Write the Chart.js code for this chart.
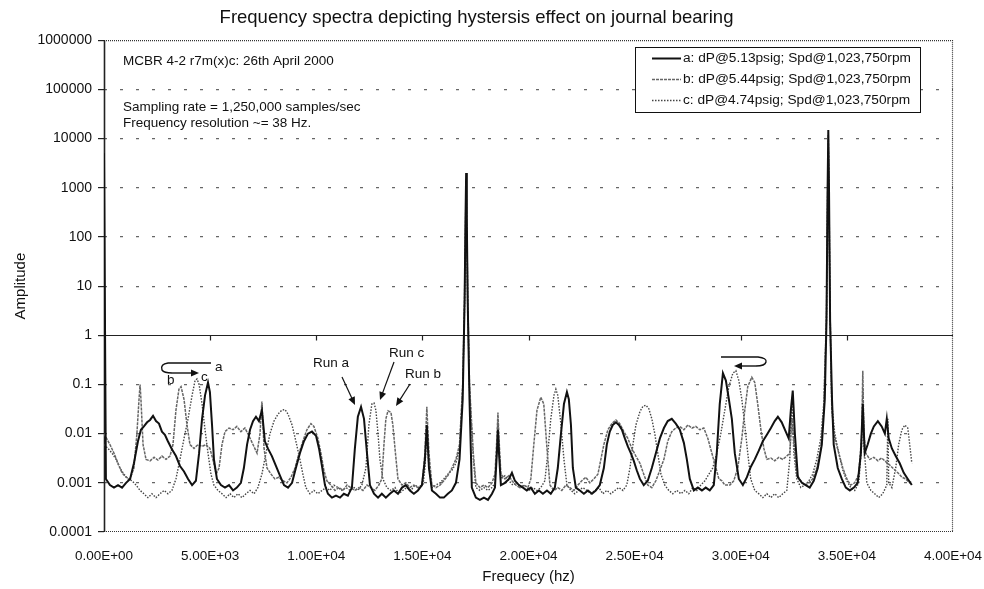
<!DOCTYPE html>
<html>
<head>
<meta charset="utf-8">
<title>Frequency spectra - journal bearing</title>
<script src="https://cdn.jsdelivr.net/npm/chart.js@4.4.1/dist/chart.umd.min.js"></script>
<style>
  html, body { margin: 0; padding: 0; background: #fff; }
  canvas { display: block; }
</style>
</head>
<body>
<canvas id="spectra" width="984" height="589"></canvas>
<script>
// Spectra for the three runs, [frequency Hz, amplitude]
const runA = [
  [0,5000],[90,0.0012],[280,0.0009],[470,0.0008],[660,0.0009],[850,0.0008],[1040,0.001],[1230,0.0012],
  [1410,0.0025],[1600,0.007],[1740,0.012],[1880,0.014],[2030,0.017],[2170,0.019],[2310,0.023],[2450,0.018],
  [2590,0.016],[2730,0.011],[2870,0.0095],[3010,0.007],[3200,0.0048],[3390,0.0035],[3580,0.0022],[3770,0.0017],
  [3960,0.0012],[4150,0.0009],[4330,0.0011],[4480,0.004],[4620,0.02],[4760,0.06],[4900,0.11],[4990,0.07],
  [5090,0.015],[5180,0.003],[5320,0.0012],[5510,0.0009],[5700,0.0008],[5890,0.0009],[6080,0.0007],[6260,0.0008],
  [6450,0.001],[6590,0.002],[6740,0.006],[6880,0.012],[7020,0.018],[7160,0.022],[7300,0.018],[7440,0.03],
  [7580,0.007],[7720,0.005],[7910,0.0035],[8100,0.0022],[8290,0.0014],[8480,0.0009],[8670,0.0008],[8860,0.001],
  [9040,0.002],[9230,0.004],[9420,0.007],[9610,0.01],[9800,0.011],[9990,0.009],[10130,0.005],[10270,0.0022],
  [10410,0.0009],[10550,0.0006],[10740,0.0005],[10930,0.00055],[11120,0.0005],[11300,0.0006],[11490,0.00055],[11680,0.0008],
  [11820,0.005],[11960,0.022],[12110,0.035],[12250,0.02],[12390,0.004],[12530,0.0009],[12720,0.0006],[12910,0.0005],
  [13090,0.0006],[13280,0.0005],[13470,0.0006],[13660,0.0007],[13850,0.0006],[14040,0.0008],[14220,0.0009],[14410,0.0007],
  [14600,0.0006],[14790,0.0007],[14980,0.0009],[15120,0.003],[15210,0.015],[15310,0.002],[15450,0.0007],[15640,0.0006],
  [15830,0.0005],[16010,0.0005],[16200,0.0006],[16390,0.0007],[16580,0.001],[16750,0.003],[16900,0.05],[16990,5],
  [17030,200],[17062,2000],[17095,200],[17135,5],[17220,0.05],[17330,0.0008],[17520,0.0005],[17710,0.00045],
  [17900,0.0005],[18090,0.00045],[18280,0.0006],[18420,0.0008],[18510,0.004],[18560,0.012],[18610,0.004],[18700,0.0009],
  [18890,0.001],[19080,0.0012],[19220,0.0016],[19360,0.0011],[19550,0.0009],[19740,0.0008],[19920,0.0007],[20110,0.0008],
  [20300,0.0006],[20490,0.0007],[20680,0.0006],[20870,0.0007],[21050,0.0006],[21240,0.0008],[21380,0.002],[21530,0.01],
  [21670,0.04],[21810,0.07],[21900,0.05],[22000,0.015],[22090,0.002],[22230,0.0008],[22420,0.0007],[22610,0.0006],
  [22800,0.0007],[22990,0.0006],[23170,0.0007],[23360,0.0009],[23550,0.002],[23690,0.006],[23830,0.011],[23970,0.015],
  [24120,0.017],[24260,0.015],[24400,0.012],[24540,0.008],[24680,0.0055],[24820,0.004],[24960,0.0028],[25100,0.0018],
  [25250,0.0012],[25430,0.0009],[25620,0.0011],[25810,0.002],[26000,0.004],[26190,0.008],[26380,0.013],[26560,0.018],
  [26750,0.02],[26940,0.016],[27130,0.012],[27320,0.0065],[27460,0.003],[27600,0.0012],[27790,0.0007],[27980,0.0008],
  [28170,0.0007],[28350,0.0008],[28540,0.0007],[28730,0.0009],[28870,0.004],[29010,0.04],[29160,0.17],[29300,0.12],
  [29440,0.05],[29580,0.02],[29720,0.004],[29910,0.0012],[30100,0.0009],[30290,0.0013],[30470,0.0021],[30660,0.003],
  [30850,0.0045],[31040,0.007],[31230,0.0095],[31420,0.013],[31600,0.018],[31750,0.022],[31930,0.017],[32120,0.011],
  [32260,0.008],[32360,0.03],[32450,0.075],[32550,0.01],[32690,0.0013],[32880,0.001],[33060,0.0009],[33250,0.0008],
  [33440,0.0011],[33630,0.002],[33820,0.006],[33960,0.05],[34040,2],[34090,800],[34125,15000],[34160,800],
  [34210,2],[34300,0.05],[34380,0.006],[34570,0.002],[34760,0.0012],[34950,0.0008],[35140,0.0007],[35330,0.0008],
  [35510,0.001],[35660,0.004],[35750,0.04],[35840,0.004],[35980,0.006],[36130,0.01],[36270,0.014],[36460,0.018],
  [36640,0.014],[36790,0.01],[36880,0.02],[36970,0.008],[37120,0.005],[37300,0.0035],[37490,0.0025],[37680,0.0016],
  [37870,0.0012],[38060,0.0009]
];

const runB = [
  [0,0.01],[280,0.006],[470,0.004],[660,0.0025],[850,0.0016],[1040,0.0013],[1230,0.0012],[1410,0.002],
  [1550,0.01],[1650,0.05],[1700,0.1],[1740,0.05],[1840,0.006],[1980,0.003],[2170,0.0028],[2360,0.0033],
  [2540,0.0029],[2730,0.0035],[2920,0.003],[3110,0.0035],[3250,0.006],[3390,0.03],[3530,0.08],[3630,0.09],
  [3770,0.05],[3910,0.015],[4050,0.006],[4240,0.005],[4430,0.006],[4620,0.0055],[4800,0.006],[4990,0.005],
  [5130,0.003],[5280,0.0015],[5420,0.002],[5560,0.006],[5700,0.011],[5890,0.013],[6080,0.012],[6260,0.014],
  [6450,0.011],[6640,0.013],[6830,0.009],[7020,0.006],[7210,0.004],[7350,0.01],[7440,0.045],[7540,0.005],
  [7680,0.002],[7870,0.0015],[8050,0.0012],[8240,0.0013],[8430,0.0011],[8620,0.001],[8810,0.0013],[9000,0.002],
  [9190,0.004],[9370,0.007],[9560,0.012],[9750,0.016],[9890,0.014],[10080,0.008],[10220,0.004],[10360,0.0018],
  [10500,0.0011],[10690,0.0009],[10880,0.0007],[11070,0.0008],[11260,0.0007],[11450,0.0009],[11630,0.0008],[11820,0.0007],
  [12010,0.0008],[12200,0.0007],[12390,0.0009],[12580,0.0008],[12760,0.0007],[12950,0.0009],[13090,0.0012],[13190,0.006],
  [13280,0.02],[13380,0.029],[13520,0.027],[13610,0.015],[13710,0.005],[13850,0.0012],[14040,0.0009],[14220,0.001],
  [14410,0.0008],[14600,0.0009],[14790,0.0008],[14980,0.0009],[15120,0.004],[15210,0.035],[15310,0.004],[15450,0.0009],
  [15640,0.0008],[15830,0.0009],[16010,0.0011],[16200,0.0014],[16390,0.002],[16580,0.003],[16750,0.006],[16900,0.1],
  [16990,8],[17030,150],[17062,1500],[17095,150],[17135,8],[17220,0.1],[17400,0.004],[17520,0.001],
  [17710,0.0008],[17900,0.0009],[18090,0.0008],[18280,0.001],[18420,0.0015],[18510,0.008],[18560,0.027],[18610,0.008],
  [18700,0.0015],[18890,0.0012],[19080,0.0014],[19220,0.0011],[19410,0.0009],[19590,0.0008],[19780,0.0009],[19970,0.0008],
  [20110,0.0012],[20250,0.006],[20400,0.03],[20580,0.055],[20720,0.04],[20870,0.005],[21010,0.0009],[21200,0.0007],
  [21380,0.0008],[21570,0.0007],[21760,0.0009],[21950,0.0008],[22140,0.0007],[22330,0.0009],[22510,0.0011],[22700,0.0013],
  [22890,0.001],[23080,0.0012],[23270,0.0015],[23410,0.003],[23550,0.006],[23740,0.012],[23930,0.016],[24120,0.019],
  [24300,0.016],[24490,0.011],[24680,0.008],[24870,0.005],[25060,0.0035],[25250,0.0025],[25430,0.0015],[25620,0.0009],
  [25810,0.0008],[26000,0.0011],[26190,0.0018],[26380,0.003],[26560,0.007],[26750,0.011],[26940,0.013],[27130,0.014],
  [27320,0.012],[27510,0.015],[27700,0.013],[27880,0.014],[28070,0.012],[28260,0.013],[28450,0.008],[28640,0.004],
  [28830,0.002],[28970,0.0012],[29110,0.0011],[29250,0.0009],[29490,0.0009],[29670,0.0011],[29860,0.002],[30050,0.008],
  [30190,0.03],[30330,0.09],[30520,0.14],[30660,0.11],[30800,0.04],[30950,0.012],[31090,0.005],[31230,0.003],
  [31420,0.0032],[31600,0.0028],[31790,0.0033],[31980,0.003],[32170,0.0035],[32310,0.004],[32410,0.02],[32500,0.007],
  [32640,0.0015],[32830,0.0011],[33020,0.0009],[33210,0.001],[33390,0.0012],[33580,0.002],[33770,0.005],[33910,0.03],
  [34040,3],[34090,600],[34125,12000],[34160,600],[34210,3],[34290,0.03],[34430,0.008],[34620,0.004],
  [34810,0.002],[35000,0.0012],[35180,0.0009],[35370,0.001],[35560,0.0015],[35700,0.01],[35750,0.19],[35800,0.01],
  [35890,0.004],[36080,0.003],[36270,0.0033],[36460,0.0028],[36640,0.0032],[36830,0.0027],[37020,0.0023],[37210,0.0019],
  [37400,0.0016],[37590,0.0013],[37770,0.0012],[37960,0.001],[38060,0.0011]
];

const runC = [
  [0,0.006],[190,0.005],[380,0.004],[570,0.003],[750,0.002],[940,0.0015],[1130,0.0012],[1320,0.0011],
  [1510,0.0009],[1700,0.0007],[1880,0.0006],[2070,0.0005],[2260,0.0006],[2450,0.0005],[2640,0.0006],[2830,0.0007],
  [3010,0.0006],[3200,0.0007],[3390,0.0012],[3580,0.003],[3770,0.008],[3960,0.02],[4150,0.06],[4290,0.12],
  [4380,0.13],[4480,0.1],[4620,0.04],[4760,0.012],[4900,0.004],[5040,0.0015],[5180,0.0009],[5370,0.0007],
  [5560,0.0006],[5750,0.0005],[5940,0.0006],[6120,0.0005],[6310,0.0006],[6500,0.0005],[6690,0.0006],[6880,0.0007],
  [7070,0.0006],[7250,0.0008],[7440,0.0015],[7630,0.004],[7820,0.01],[8010,0.018],[8200,0.025],[8380,0.03],
  [8530,0.031],[8670,0.025],[8860,0.015],[9040,0.007],[9230,0.003],[9370,0.0015],[9510,0.0008],[9700,0.0006],
  [9890,0.0007],[10080,0.0006],[10270,0.0007],[10460,0.0008],[10650,0.0007],[10830,0.0009],[11020,0.0008],[11210,0.0007],
  [11400,0.0008],[11590,0.0007],[11780,0.0008],[11960,0.0007],[12150,0.0009],[12340,0.002],[12480,0.015],[12620,0.04],
  [12720,0.042],[12810,0.03],[12910,0.01],[13000,0.003],[13140,0.0012],[13330,0.0008],[13520,0.0007],[13710,0.0008],
  [13900,0.0006],[14080,0.0007],[14270,0.0008],[14460,0.0007],[14650,0.0009],[14840,0.0008],[15030,0.0009],[15120,0.002],
  [15210,0.01],[15310,0.002],[15450,0.0008],[15640,0.0009],[15830,0.001],[16010,0.0012],[16200,0.0015],[16390,0.0018],
  [16580,0.0025],[16750,0.005],[16900,0.08],[16990,4],[17030,100],[17062,1000],[17095,100],[17135,4],
  [17220,0.08],[17400,0.003],[17520,0.0008],[17710,0.0007],[17900,0.0008],[18090,0.0007],[18280,0.0008],[18420,0.001],
  [18510,0.005],[18560,0.02],[18610,0.005],[18700,0.0012],[18890,0.0014],[19080,0.0011],[19260,0.0009],[19450,0.001],
  [19640,0.0008],[19830,0.0009],[20020,0.0007],[20210,0.0008],[20400,0.0007],[20580,0.0008],[20770,0.0011],[20910,0.004],
  [21050,0.02],[21200,0.06],[21290,0.08],[21380,0.06],[21530,0.015],[21670,0.003],[21810,0.0009],[22000,0.0007],
  [22180,0.0006],[22370,0.0007],[22560,0.0008],[22750,0.0007],[22940,0.0006],[23130,0.0007],[23320,0.0008],[23500,0.0006],
  [23690,0.0007],[23880,0.0006],[24070,0.0007],[24260,0.0008],[24450,0.0007],[24630,0.0009],[24780,0.002],[24920,0.006],
  [25060,0.015],[25250,0.028],[25390,0.036],[25530,0.038],[25670,0.032],[25810,0.02],[25950,0.01],[26090,0.004],
  [26240,0.0015],[26420,0.0009],[26610,0.0007],[26800,0.0006],[26990,0.0007],[27180,0.0006],[27370,0.0007],[27550,0.0006],
  [27740,0.0008],[27930,0.0007],[28120,0.0009],[28310,0.0011],[28500,0.0015],[28680,0.002],[28870,0.004],[29060,0.01],
  [29250,0.03],[29440,0.09],[29630,0.17],[29770,0.19],[29910,0.12],[30050,0.05],[30190,0.015],[30330,0.004],
  [30470,0.0012],[30660,0.0007],[30850,0.0006],[31040,0.0005],[31230,0.0006],[31420,0.0005],[31600,0.0006],[31790,0.0005],
  [31980,0.0006],[32170,0.0007],[32310,0.003],[32410,0.05],[32500,0.004],[32640,0.0012],[32830,0.0008],[33020,0.0009],
  [33210,0.0011],[33390,0.0015],[33580,0.003],[33770,0.008],[33910,0.04],[34040,2],[34090,500],[34125,9000],
  [34160,500],[34210,2],[34290,0.04],[34430,0.01],[34620,0.004],[34810,0.0018],[35000,0.0011],[35180,0.0008],
  [35370,0.0007],[35560,0.001],[35700,0.006],[35750,0.08],[35800,0.006],[35940,0.001],[36130,0.0007],[36310,0.0006],
  [36500,0.0005],[36690,0.0006],[36880,0.0009],[36930,0.02],[36970,0.001],[37120,0.0008],[37300,0.002],[37440,0.006],
  [37590,0.012],[37730,0.015],[37870,0.013],[37960,0.006],[38060,0.0025]
];

const runLabels = [
  'a: dP@5.13psig; Spd@1,023,750rpm',
  'b: dP@5.44psig; Spd@1,023,750rpm',
  'c: dP@4.74psig; Spd@1,023,750rpm'
];
const yTicks = [0.0001, 0.001, 0.01, 0.1, 1, 10, 100, 1000, 10000, 100000, 1000000];
const xStep = 5000;

const FONT = '"Liberation Sans", Arial, Helvetica, sans-serif';

function sciLabel(v) {
  if (v === 0) return '0.00E+00';
  const e = Math.floor(Math.log10(v));
  const m = v / Math.pow(10, e);
  return m.toFixed(2) + 'E+' + String(e).padStart(2, '0');
}

function toPoints(run) {
  return run.map(p => ({ x: p[0], y: p[1] }));
}

// plot frame: dotted box, left axis, and the solid line at amplitude 1 with its ticks
const framePlugin = {
  id: 'frame',
  beforeDatasetsDraw(chart) {
    const { ctx, chartArea: a, scales: { x, y } } = chart;
    ctx.save();
    ctx.strokeStyle = '#333';
    ctx.lineWidth = 1.2;
    ctx.setLineDash([1, 1]);
    ctx.beginPath();
    ctx.moveTo(a.left, a.top + 0.5); ctx.lineTo(a.right, a.top + 0.5);
    ctx.moveTo(a.right - 0.5, a.top); ctx.lineTo(a.right - 0.5, a.bottom);
    ctx.moveTo(a.left, a.bottom - 0.5); ctx.lineTo(a.right, a.bottom - 0.5);
    ctx.stroke();
    ctx.setLineDash([]);
    ctx.strokeStyle = '#222';
    ctx.lineWidth = 1.6;
    ctx.beginPath();
    ctx.moveTo(a.left + 0.5, a.top); ctx.lineTo(a.left + 0.5, a.bottom);
    ctx.stroke();
    const y1 = Math.round(y.getPixelForValue(1)) + 0.5;
    ctx.lineWidth = 1.2;
    ctx.beginPath();
    ctx.moveTo(a.left, y1); ctx.lineTo(a.right, y1);
    for (let f = xStep; f < x.max; f += xStep) {
      const px = Math.round(x.getPixelForValue(f)) + 0.5;
      ctx.moveTo(px, y1); ctx.lineTo(px, y1 + 5);
    }
    ctx.stroke();
    ctx.restore();
  }
};

function arrow(ctx, x0, y0, x1, y1) {
  const ang = Math.atan2(y1 - y0, x1 - x0);
  ctx.beginPath();
  ctx.moveTo(x0, y0);
  ctx.lineTo(x1 - 6 * Math.cos(ang), y1 - 6 * Math.sin(ang));
  ctx.stroke();
  ctx.beginPath();
  ctx.moveTo(x1, y1);
  ctx.lineTo(x1 - 8 * Math.cos(ang) + 3.5 * Math.sin(ang), y1 - 8 * Math.sin(ang) - 3.5 * Math.cos(ang));
  ctx.lineTo(x1 - 8 * Math.cos(ang) - 3.5 * Math.sin(ang), y1 - 8 * Math.sin(ang) + 3.5 * Math.cos(ang));
  ctx.closePath();
  ctx.fill();
}

// boxed legend, notes and run markers
const notesPlugin = {
  id: 'notes',
  afterDraw(chart) {
    const { ctx } = chart;
    ctx.save();
    ctx.fillStyle = '#111';
    ctx.strokeStyle = '#111';
    ctx.font = '13.5px ' + FONT;
    ctx.textBaseline = 'middle';
    ctx.textAlign = 'left';
    ctx.fillText('MCBR 4-2 r7m(x)c: 26th April 2000', 123, 61);
    ctx.fillText('Sampling rate = 1,250,000 samples/sec', 123, 107);
    ctx.fillText('Frequency resolution ~= 38 Hz.', 123, 123);

    // legend box
    ctx.fillStyle = '#fff';
    ctx.fillRect(635, 47, 286, 66);
    ctx.lineWidth = 1;
    ctx.strokeRect(635.5, 47.5, 285, 65);
    ctx.font = '13.7px ' + FONT;
    chart.data.datasets.forEach((ds, i) => {
      const ly = 58 + i * 21;
      ctx.save();
      ctx.strokeStyle = ds.borderColor;
      ctx.lineWidth = ds.borderWidth;
      ctx.setLineDash(ds.borderDash || []);
      ctx.beginPath();
      ctx.moveTo(652, ly + 0.5); ctx.lineTo(681, ly + 0.5);
      ctx.stroke();
      ctx.restore();
      ctx.fillStyle = '#111';
      ctx.fillText(ds.label, 683, ly);
    });

    // run markers
    ctx.font = '13.5px ' + FONT;
    ctx.lineWidth = 1.2;
    ctx.fillStyle = '#111';
    ctx.fillText('Run a', 313, 363);
    ctx.fillText('Run c', 389, 353);
    ctx.fillText('Run b', 405, 374);
    arrow(ctx, 342, 377, 355, 405);
    arrow(ctx, 394, 362, 380, 400);
    arrow(ctx, 410, 384, 396, 406);

    // shift direction of the peaks
    ctx.lineWidth = 1.4;
    ctx.beginPath();
    ctx.moveTo(211, 363);
    ctx.lineTo(168, 363);
    ctx.quadraticCurveTo(160, 364, 162, 370);
    ctx.quadraticCurveTo(164, 373, 172, 373);
    ctx.stroke();
    arrow(ctx, 172, 373, 199, 373);
    ctx.fillText('a', 215, 367);
    ctx.fillText('b', 167, 380);
    ctx.fillText('c', 201, 377);

    ctx.beginPath();
    ctx.moveTo(721, 357);
    ctx.lineTo(758, 357);
    ctx.quadraticCurveTo(767, 358, 766, 362);
    ctx.quadraticCurveTo(765, 366, 756, 366);
    ctx.stroke();
    arrow(ctx, 756, 366, 734, 366);
    ctx.restore();
  }
};

new Chart(document.getElementById('spectra'), {
  type: 'line',
  data: {
    datasets: [
      { label: runLabels[0], data: toPoints(runA), borderColor: '#111', borderWidth: 2 },
      { label: runLabels[1], data: toPoints(runB), borderColor: '#666', borderWidth: 1.5, borderDash: [3, 1] },
      { label: runLabels[2], data: toPoints(runC), borderColor: '#444', borderWidth: 1.4, borderDash: [1.5, 1.5] }
    ]
  },
  options: {
    responsive: false,
    animation: false,
    devicePixelRatio: 1,
    elements: { point: { radius: 0 }, line: { tension: 0, fill: false } },
    layout: { padding: { left: 0, right: 31, top: 0, bottom: 0 } },
    plugins: {
      legend: { display: false },
      tooltip: { enabled: false },
      title: {
        display: true,
        text: 'Frequency spectra depicting hystersis effect on journal bearing',
        color: '#111',
        font: { family: FONT, size: 18.5, weight: 'normal' },
        padding: { top: 7, bottom: 11 }
      }
    },
    scales: {
      x: {
        type: 'linear',
        min: 0,
        max: 40000,
        afterFit(s) { s.height = 57; s.paddingLeft = 0; s.paddingRight = 0; },
        grid: { display: false },
        border: { display: false },
        ticks: {
          stepSize: xStep,
          maxRotation: 0,
          padding: 8,
          color: '#111',
          font: { family: FONT, size: 13.5 },
          callback: v => sciLabel(v)
        },
        title: {
          display: true,
          text: 'Frequecy (hz)',
          color: '#111',
          font: { family: FONT, size: 15 },
          padding: { top: 0, bottom: 3 }
        }
      },
      y: {
        type: 'logarithmic',
        min: 0.0001,
        max: 1000000,
        afterFit(s) { s.width = 104; s.paddingTop = 0; s.paddingBottom = 0; },
        afterBuildTicks(s) { s.ticks = yTicks.map(v => ({ value: v })); },
        grid: {
          color: c => {
            const v = c.tick && c.tick.value;
            return (v === 1 || v === 1000000 || v === 0.0001) ? 'rgba(0,0,0,0)' : '#666';
          },
          lineWidth: 1.2,
          tickLength: 6,
          tickColor: '#222'
        },
        border: { display: false, dash: [3, 13] },
        ticks: {
          padding: 6,
          color: '#111',
          font: { family: FONT, size: 14 },
          callback: v => String(v)
        },
        title: {
          display: true,
          text: 'Amplitude',
          color: '#111',
          font: { family: FONT, size: 15 },
          padding: { top: 12, bottom: 0 }
        }
      }
    }
  },
  plugins: [framePlugin, notesPlugin]
});
</script>
</body>
</html>
